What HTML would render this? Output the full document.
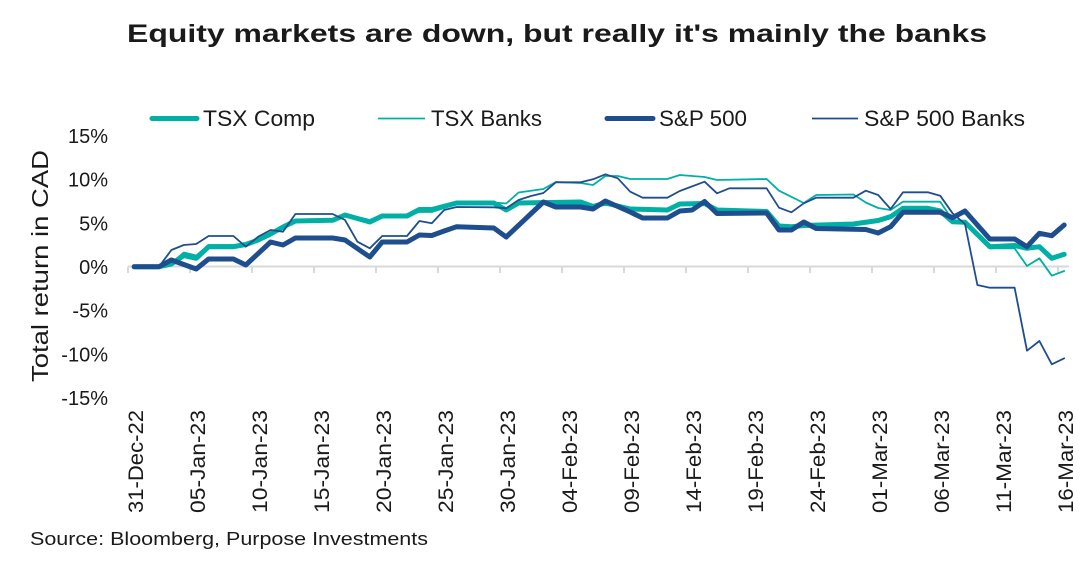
<!DOCTYPE html>
<html>
<head>
<meta charset="utf-8">
<style>
  html,body{margin:0;padding:0;background:#fff;}
  svg{display:block;}
  text{font-family:"Liberation Sans", Arial, sans-serif; fill:#1a1a1a;}
</style>
</head>
<body>
<svg width="1092" height="562" viewBox="0 0 1092 562" xmlns="http://www.w3.org/2000/svg">
  <rect width="1092" height="562" fill="#ffffff"/>

  <!-- Title -->
  <text x="127" y="42" font-size="25" font-weight="bold" fill="#000" textLength="860" lengthAdjust="spacingAndGlyphs">Equity markets are down, but really it's mainly the banks</text>

  <!-- Legend -->
  <line x1="152" y1="118.5" x2="197" y2="118.5" stroke="#00B0A4" stroke-width="5" stroke-linecap="round"/>
  <text x="203" y="126" font-size="22" textLength="112" lengthAdjust="spacingAndGlyphs">TSX Comp</text>
  <line x1="378" y1="118.5" x2="425" y2="118.5" stroke="#00B0A4" stroke-width="1.8"/>
  <text x="431" y="126" font-size="22" textLength="111" lengthAdjust="spacingAndGlyphs">TSX Banks</text>
  <line x1="607" y1="118.5" x2="653" y2="118.5" stroke="#1F4E8F" stroke-width="5" stroke-linecap="round"/>
  <text x="659" y="126" font-size="22" textLength="88" lengthAdjust="spacingAndGlyphs">S&amp;P 500</text>
  <line x1="812" y1="118.5" x2="858" y2="118.5" stroke="#1F4E8F" stroke-width="1.8"/>
  <text x="864" y="126" font-size="22" textLength="161" lengthAdjust="spacingAndGlyphs">S&amp;P 500 Banks</text>

  <!-- Y axis labels -->
  <g font-size="20" text-anchor="end">
    <text x="108" y="143">15%</text>
    <text x="108" y="186.7">10%</text>
    <text x="108" y="230.3">5%</text>
    <text x="108" y="274">0%</text>
    <text x="108" y="317.7">-5%</text>
    <text x="108" y="361.3">-10%</text>
    <text x="108" y="405">-15%</text>
  </g>

  <!-- Y axis title -->
  <text transform="translate(48,266) rotate(-90)" text-anchor="middle" font-size="23" textLength="232" lengthAdjust="spacingAndGlyphs">Total return in CAD</text>

  <!-- X axis -->
  <line x1="128" y1="266.5" x2="1069" y2="266.5" stroke="#d9d9d9" stroke-width="2"/>
  <g stroke="#d9d9d9" stroke-width="2">
    <line x1="128" y1="266.5" x2="128" y2="273"/>
    <line x1="190" y1="266.5" x2="190" y2="273"/>
    <line x1="252" y1="266.5" x2="252" y2="273"/>
    <line x1="314" y1="266.5" x2="314" y2="273"/>
    <line x1="376" y1="266.5" x2="376" y2="273"/>
    <line x1="438" y1="266.5" x2="438" y2="273"/>
    <line x1="500" y1="266.5" x2="500" y2="273"/>
    <line x1="562" y1="266.5" x2="562" y2="273"/>
    <line x1="624" y1="266.5" x2="624" y2="273"/>
    <line x1="686" y1="266.5" x2="686" y2="273"/>
    <line x1="748" y1="266.5" x2="748" y2="273"/>
    <line x1="810" y1="266.5" x2="810" y2="273"/>
    <line x1="872" y1="266.5" x2="872" y2="273"/>
    <line x1="934" y1="266.5" x2="934" y2="273"/>
    <line x1="996" y1="266.5" x2="996" y2="273"/>
    <line x1="1058" y1="266.5" x2="1058" y2="273"/>
  </g>

  <!-- X tick labels -->
  <g font-size="21" text-anchor="end">
    <text transform="translate(143.2,410) rotate(-90)" textLength="103" lengthAdjust="spacingAndGlyphs">31-Dec-22</text>
    <text transform="translate(205.2,410) rotate(-90)" textLength="103" lengthAdjust="spacingAndGlyphs">05-Jan-23</text>
    <text transform="translate(267.2,410) rotate(-90)" textLength="103" lengthAdjust="spacingAndGlyphs">10-Jan-23</text>
    <text transform="translate(329.2,410) rotate(-90)" textLength="103" lengthAdjust="spacingAndGlyphs">15-Jan-23</text>
    <text transform="translate(391.2,410) rotate(-90)" textLength="103" lengthAdjust="spacingAndGlyphs">20-Jan-23</text>
    <text transform="translate(453.2,410) rotate(-90)" textLength="103" lengthAdjust="spacingAndGlyphs">25-Jan-23</text>
    <text transform="translate(515.2,410) rotate(-90)" textLength="103" lengthAdjust="spacingAndGlyphs">30-Jan-23</text>
    <text transform="translate(577.2,410) rotate(-90)" textLength="103" lengthAdjust="spacingAndGlyphs">04-Feb-23</text>
    <text transform="translate(639.2,410) rotate(-90)" textLength="103" lengthAdjust="spacingAndGlyphs">09-Feb-23</text>
    <text transform="translate(701.2,410) rotate(-90)" textLength="103" lengthAdjust="spacingAndGlyphs">14-Feb-23</text>
    <text transform="translate(763.2,410) rotate(-90)" textLength="103" lengthAdjust="spacingAndGlyphs">19-Feb-23</text>
    <text transform="translate(825.2,410) rotate(-90)" textLength="103" lengthAdjust="spacingAndGlyphs">24-Feb-23</text>
    <text transform="translate(887.2,410) rotate(-90)" textLength="103" lengthAdjust="spacingAndGlyphs">01-Mar-23</text>
    <text transform="translate(949.2,410) rotate(-90)" textLength="103" lengthAdjust="spacingAndGlyphs">06-Mar-23</text>
    <text transform="translate(1011.2,410) rotate(-90)" textLength="103" lengthAdjust="spacingAndGlyphs">11-Mar-23</text>
    <text transform="translate(1073.2,410) rotate(-90)" textLength="103" lengthAdjust="spacingAndGlyphs">16-Mar-23</text>
  </g>

  <!-- Series -->
  <g fill="none" stroke-linejoin="round" stroke-linecap="round">
    <!-- TSX Comp -->
    <polyline stroke="#00B0A4" stroke-width="5" points="134.2,266.7 159,266.7 171.4,264 183.8,255.5 196.2,258.3 208.6,246.7 233.4,246.7 245.8,244.5 258.2,240 270.6,234 283,227 295.4,221 332.6,220.3 345,215 369.8,222 382.2,216 407,216 419.4,209.5 431.8,209.5 456.6,203 493.8,203 506.2,210 518.6,203 580.6,202 593,206.5 605.4,203 630.2,209 667.4,210 679.8,204 704.6,203.5 717,210 766.6,211.5 779,226 791.4,226.7 803.8,225.5 853.4,224 878.2,220.5 890.6,216.7 903,208.3 927.8,208.3 940.2,211 952.6,221.7 965,222.3 989.8,246.7 1014.6,245.5 1027,248.3 1039.4,246.7 1051.8,258.3 1064.2,254.3"/>
    <!-- TSX Banks -->
    <polyline stroke="#00B0A4" stroke-width="1.8" points="134.2,266.7 159,266.7 171.4,263 183.8,252.5 196.2,255.5 208.6,245 233.4,245 245.8,243.5 258.2,239 270.6,233 283,226 295.4,219.5 332.6,219 345,214 369.8,220 382.2,214.5 407,214.5 419.4,212 431.8,212 444.2,208 456.6,204 493.8,202.5 506.2,203.5 518.6,192.5 543.4,189 555.8,182 580.6,183 593,185 605.4,176 617.8,176 630.2,179 667.4,179 679.8,175 704.6,177 717,180 766.6,179 779,190.7 803.8,203 816.2,195 853.4,194.5 865.8,202.5 878.2,208 890.6,210 903,201.7 940.2,201.7 952.6,220 965,222 989.8,248.3 1014.6,248.3 1027,266 1039.4,258.3 1051.8,275.7 1064.2,271"/>
    <!-- S&P 500 -->
    <polyline stroke="#1F4E8F" stroke-width="5" points="134.2,266.7 159,266.7 171.4,260 196.2,269 208.6,259 233.4,259 245.8,265 270.6,242 283,245 295.4,238 332.6,238 345,240 369.8,257 382.2,242 407,242 419.4,235 431.8,235.5 444.2,231 456.6,226.7 493.8,228 506.2,237 543.4,202 555.8,207 580.6,207 593,209 605.4,201 630.2,212 642.6,218 667.4,218 679.8,211 692.2,210 704.6,201.5 717,213.5 766.6,213 779,230 791.4,230 803.8,222 816.2,228.5 865.8,229.5 878.2,233 890.6,226.7 903,212.3 940.2,212.3 952.6,217.7 965,211 989.8,239 1014.6,239 1027,246.7 1039.4,233.3 1051.8,235.7 1064.2,225"/>
    <!-- S&P 500 Banks -->
    <polyline stroke="#1F4E8F" stroke-width="1.8" points="134.2,266.7 159,266.7 171.4,250 183.8,245 196.2,244 208.6,236 233.4,236 245.8,246.7 258.2,236.7 270.6,230 283,231.7 295.4,214 332.6,214 345,220 357.4,241.7 369.8,248.3 382.2,236 407,236 419.4,221 431.8,223.3 444.2,210 456.6,207 493.8,207.3 506.2,208.3 518.6,200 531,196 543.4,193 555.8,182.3 580.6,182.3 593,179.3 605.4,174.3 617.8,178.3 630.2,191.7 642.6,197.7 667.4,197.7 679.8,191 704.6,181.7 717,193.3 729.4,188.3 766.6,188.3 779,207.7 791.4,212.3 803.8,203.3 816.2,197.7 853.4,197.7 865.8,190.7 878.2,195 890.6,209 903,192.3 927.8,192.3 940.2,195.7 952.6,213.3 965,224 977.4,285 989.8,287.7 1014.6,287.7 1027,350.7 1039.4,341 1051.8,364.3 1064.2,358.3"/>
  </g>

  <!-- Source -->
  <text x="30" y="545" font-size="18" textLength="398" lengthAdjust="spacingAndGlyphs">Source: Bloomberg, Purpose Investments</text>
</svg>
</body>
</html>
